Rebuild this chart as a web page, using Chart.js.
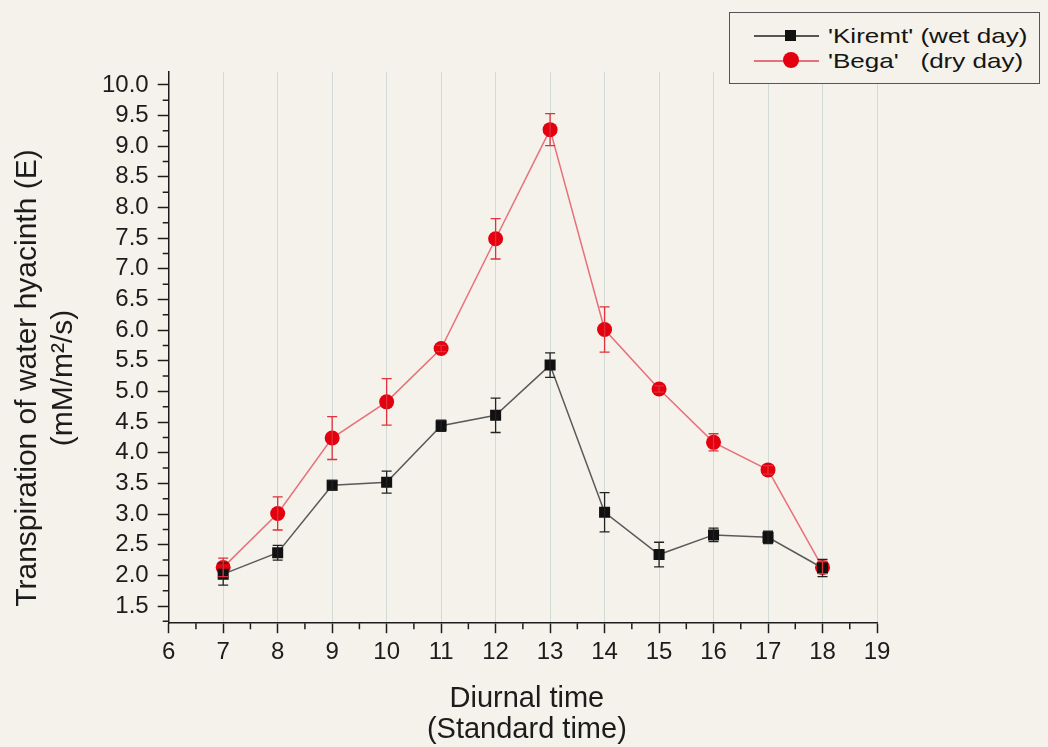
<!DOCTYPE html>
<html>
<head>
<meta charset="utf-8">
<script src="https://cdn.jsdelivr.net/npm/chart.js@4"></script>
<style>
  html, body { margin: 0; padding: 0; background: #f4f2ea; }
  #wrap { position: relative; width: 1048px; height: 747px; overflow: hidden; }
  #legend {
    position: absolute; left: 729px; top: 12px; width: 309px; height: 70px;
    border: 1.5px solid #555; font-family: "Liberation Sans", Arial, sans-serif;
    font-size: 21px; color: #151515; background: #f4f2ea;
  }
  .row { position: absolute; left: 0; height: 24px; width: 320px; }
  .ln { position: absolute; left: 24px; width: 65px; top: 11px; height: 1.5px; }
  .mk { position: absolute; }
  .txt { position: absolute; left: 98px; top: 0; line-height: 24px; white-space: pre;
         transform: scaleX(1.24); transform-origin: left center; }
</style>
</head>
<body>
<div id="wrap">
  <canvas id="chart" width="1048" height="747"></canvas>
  <div id="legend">
    <div class="row" style="top:11px">
      <div class="ln" style="background:#555"></div>
      <div class="mk" style="left:55px;top:6px;width:11px;height:11px;background:#111"></div>
      <div class="txt">'Kiremt' (wet day)</div>
    </div>
    <div class="row" style="top:36px">
      <div class="ln" style="background:#e8707a"></div>
      <div class="mk" style="left:53px;top:3px;width:16px;height:16px;border-radius:50%;background:#e3000f"></div>
      <div class="txt">'Bega'   (dry day)</div>
    </div>
  </div>
</div>
<script>
// heures de mesure
const hours = [7, 8, 9, 10, 11, 12, 13, 14, 15, 16, 17, 18];
// 'Kiremt' (wet day)
const kiremt = [2.02, 2.37, 3.47, 3.52, 4.44, 4.61, 5.43, 3.03, 2.34, 2.66, 2.62, 2.12];
const kiremtErr = [0.18, 0.12, 0.08, 0.18, 0.09, 0.28, 0.2, 0.32, 0.2, 0.11, 0.1, 0.14];
// 'Bega' (dry day)
const bega = [2.13, 3.01, 4.24, 4.83, 5.70, 7.49, 9.27, 6.01, 5.04, 4.17, 3.72, 2.13];
const begaErr = [0.15, 0.27, 0.35, 0.38, 0.05, 0.33, 0.26, 0.37, 0.05, 0.14, 0.07, 0.1];

const xTicks = [6, 7, 8, 9, 10, 11, 12, 13, 14, 15, 16, 17, 18, 19];
const yTicks = [1.5, 2.0, 2.5, 3.0, 3.5, 4.0, 4.5, 5.0, 5.5, 6.0, 6.5, 7.0, 7.5, 8.0, 8.5, 9.0, 9.5, 10.0];

const xTitle = ['Diurnal time', '(Standard time)'];
const yTitle = ['Transpiration of water hyacinth (E)', '(mM/m\u00b2/s)'];

const FONT = '"Liberation Sans", Arial, sans-serif';
const INK = '#1c1c1c';

// barres d'erreur, petites graduations et titres des axes
const extras = {
    id: 'extras',
    afterDatasetsDraw(chart) {
        const ctx = chart.ctx;
        const xs = chart.scales.x, ys = chart.scales.y;
        const sets = [
            { vals: kiremt, err: kiremtErr, color: '#222' },
            { vals: bega, err: begaErr, color: '#e0303a' }
        ];
        ctx.save();
        ctx.lineWidth = 1.3;
        sets.forEach(s => {
            ctx.strokeStyle = s.color;
            hours.forEach((h, i) => {
                const px = xs.getPixelForValue(h);
                const top = ys.getPixelForValue(s.vals[i] + s.err[i]);
                const bot = ys.getPixelForValue(s.vals[i] - s.err[i]);
                ctx.beginPath();
                ctx.moveTo(px, top); ctx.lineTo(px, bot);
                ctx.moveTo(px - 5, top); ctx.lineTo(px + 5, top);
                ctx.moveTo(px - 5, bot); ctx.lineTo(px + 5, bot);
                ctx.stroke();
            });
        });
        ctx.restore();
    },
    afterDraw(chart) {
        const ctx = chart.ctx;
        const xs = chart.scales.x, ys = chart.scales.y;
        const area = chart.chartArea;
        ctx.save();
        ctx.strokeStyle = INK;
        ctx.lineWidth = 1.5;
        ctx.beginPath();
        for (let i = 0; i < xTicks.length - 1; i++) {
            const px = xs.getPixelForValue(xTicks[i] + 0.5);
            ctx.moveTo(px, area.bottom); ctx.lineTo(px, area.bottom + 6);
        }
        for (let i = 0; i < yTicks.length; i++) {
            const v = yTicks[i] - 0.25;
            if (v < ys.min) continue;
            const py = ys.getPixelForValue(v);
            ctx.moveTo(area.left, py); ctx.lineTo(area.left - 6, py);
        }
        ctx.stroke();

        ctx.fillStyle = INK;
        ctx.textAlign = 'center';
        ctx.textBaseline = 'alphabetic';
        // titre X
        ctx.font = '29px ' + FONT;
        const cx = (area.left + area.right) / 2 + 4;
        ctx.fillText(xTitle[0], cx, 707);
        ctx.fillText(xTitle[1], cx, 738);
        // titre Y
        ctx.font = '30px ' + FONT;
        ctx.translate(0, 378);
        ctx.rotate(-Math.PI / 2);
        ctx.fillText(yTitle[0], 0, 36);
        ctx.fillText(yTitle[1], 0, 72);
        ctx.restore();
    }
};

const ctx = document.getElementById('chart').getContext('2d');
new Chart(ctx, {
    type: 'line',
    data: {
        datasets: [
            {
                label: "'Kiremt' (wet day)",
                data: hours.map((h, i) => ({ x: h, y: kiremt[i] })),
                borderColor: '#5a5a5a',
                borderWidth: 1.5,
                pointStyle: 'rect',
                pointRadius: 7.8,
                pointBackgroundColor: '#111',
                pointBorderColor: '#111',
                pointBorderWidth: 0
            },
            {
                label: "'Bega' (dry day)",
                data: hours.map((h, i) => ({ x: h, y: bega[i] })),
                borderColor: '#e8707a',
                borderWidth: 1.5,
                pointStyle: 'circle',
                pointRadius: 7.5,
                pointBackgroundColor: '#e3000f',
                pointBorderColor: '#e3000f',
                pointBorderWidth: 0
            }
        ]
    },
    options: {
        responsive: false,
        animation: false,
        layout: { padding: { top: 72, right: 171, left: 93, bottom: 75 } },
        plugins: { legend: { display: false }, tooltip: { enabled: false } },
        scales: {
            x: {
                type: 'linear',
                min: 6, max: 19,
                afterBuildTicks: s => { s.ticks = xTicks.map(v => ({ value: v })); },
                border: { color: INK, width: 1.5 },
                grid: { color: '#d3dbd7', lineWidth: 1, tickColor: INK, tickLength: 10, tickWidth: 1.5 },
                ticks: { color: INK, font: { family: FONT, size: 24 }, padding: 5, maxRotation: 0 }
            },
            y: {
                type: 'linear',
                min: 1.22, max: 10.21,
                afterBuildTicks: s => { s.ticks = yTicks.map(v => ({ value: v })); },
                border: { color: INK, width: 1.5 },
                grid: { drawOnChartArea: false, tickColor: INK, tickLength: 11, tickWidth: 1.5 },
                ticks: {
                    color: INK, font: { family: FONT, size: 24 }, padding: 9,
                    callback: v => v.toFixed(1)
                }
            }
        }
    },
    plugins: [extras]
});
</script>
</body>
</html>
